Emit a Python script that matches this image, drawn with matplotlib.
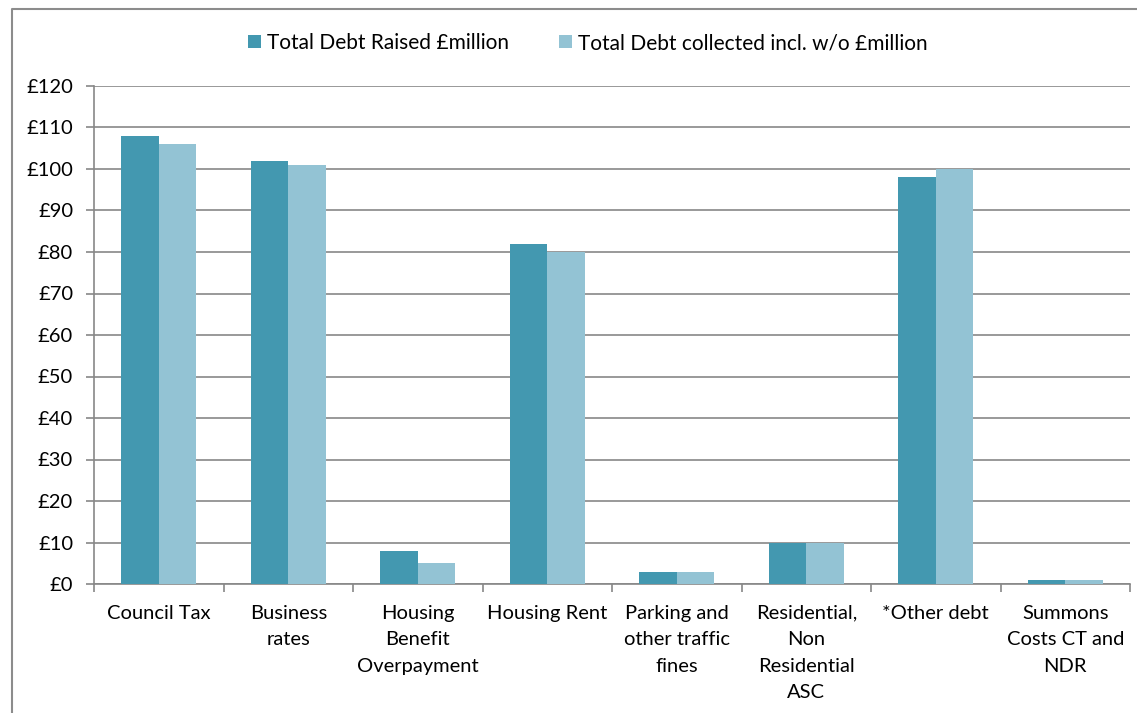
import numpy as np
import matplotlib
matplotlib.use("Agg")
import matplotlib.pyplot as plt
from matplotlib.lines import Line2D

# data (£ million)
categories = ["Council Tax", "Business\nrates", "Housing\nBenefit\nOverpayment",
              "Housing Rent", "Parking and\nother traffic\nfines",
              "Residential,\nNon\nResidential\nASC", "*Other debt",
              "Summons\nCosts CT and\nNDR"]
raised = [108, 102, 8, 82, 3, 10, 98, 1]
collected = [106, 101, 5, 80, 3, 10, 100, 1]
series_names = ["Total Debt Raised £million", "Total Debt collected incl. w/o £million"]
yticks = list(range(0, 121, 10))

plt.rcParams['font.family'] = ['Lato', 'DejaVu Sans']
FS = 14.5
dark = "#4398b0"
light = "#93c3d4"
grid_c = "#878787"

fig = plt.figure(figsize=(11.37, 7.13), dpi=100)
ax = fig.add_axes([94 / 1137, 1 - 584 / 713, (1130 - 94) / 1137, (584 - 86) / 713])

x = np.arange(len(categories))
w = 0.29
b1 = ax.bar(x - w / 2, raised, w, color=dark, label=series_names[0], zorder=3)
b2 = ax.bar(x + w / 2, collected, w, color=light, label=series_names[1], zorder=3)

ax.set_ylim(0, 120)
ax.set_xlim(-0.5, len(categories) - 0.5)
ax.set_yticks(yticks)
ax.set_yticklabels(["£%d" % v for v in yticks], fontsize=FS)
ax.yaxis.grid(True, color=grid_c, linewidth=1.2, zorder=0)
ax.tick_params(axis='y', length=6, width=1.2, color=grid_c, pad=9)

# category boundaries get the ticks, labels sit in the middle
ax.set_xticks(np.arange(-0.5, len(categories), 1.0))
ax.set_xticklabels([])
ax.tick_params(axis='x', which='major', length=6, width=1.2, color=grid_c)
ax.set_xticks(x, minor=True)
ax.set_xticklabels(categories, minor=True, fontsize=FS, linespacing=1.68, va='top')
ax.tick_params(axis='x', which='minor', length=0, pad=15)

for s in ["top", "right"]:
    ax.spines[s].set_visible(False)
for s in ["left", "bottom"]:
    ax.spines[s].set_color(grid_c)
    ax.spines[s].set_linewidth(1.2)

fig.legend(handles=[b1, b2], loc='center', bbox_to_anchor=(588 / 1137, 1 - 43 / 713),
           ncol=2, frameon=False, fontsize=15, handlelength=0.62, handleheight=0.62,
           handletextpad=0.3, columnspacing=2.4)

# outer chart frame (only left and top edges visible)
fx = 12 / 1137
fy = 1 - 9 / 713
fig.add_artist(Line2D([fx, fx, 1.0], [0.0, fy, fy], transform=fig.transFigure,
                      color="#8c8c8c", linewidth=1.5))

fig.savefig("out.png", dpi=100)
